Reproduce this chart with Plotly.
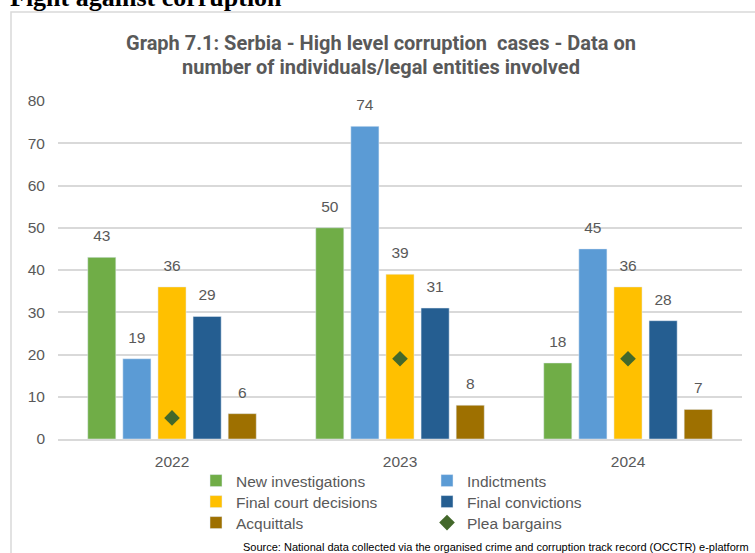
import plotly.graph_objects as go

years = ["2022", "2023", "2024"]
new_investigations = [43, 50, 18]
indictments = [19, 74, 45]
final_court_decisions = [36, 39, 36]
final_convictions = [29, 31, 28]
acquittals = [6, 8, 7]
plea_bargains = [5, 19, 19]

W, H = 755, 553
ML, MR, MT, MB = 58, 13, 101, 114
PW, PH = W - ML - MR, H - MT - MB

def px(x):
    return (x - ML) / PW

def py(y):
    return (H - MB - y) / PH

GRAY = "#595959"
LABEL_FONT = dict(family="Liberation Sans, Arial, sans-serif", size=15.5, color=GRAY)

fig = go.Figure()
series = [
    ("New investigations", new_investigations, "#70ad47", "legend"),
    ("Indictments", indictments, "#5b9bd5", "legend"),
    ("Final court decisions", final_court_decisions, "#ffc000", "legend2"),
    ("Final convictions", final_convictions, "#255e91", "legend2"),
    ("Acquittals", acquittals, "#9e7000", "legend3"),
]
for i, (name, vals, col, leg) in enumerate(series):
    fig.add_trace(go.Bar(
        name=name, x=years, y=vals, marker_color=col, legend=leg,
        offsetgroup=str(i), alignmentgroup="a",
    ))
for i, (name, vals, col, leg) in enumerate(series):
    fig.add_trace(go.Scatter(
        x=years, y=vals, mode="markers+text", text=[str(v) for v in vals],
        textposition="top center", textfont=LABEL_FONT, cliponaxis=False,
        marker=dict(size=18, color="rgba(0,0,0,0)"),
        offsetgroup=str(i), alignmentgroup="a", showlegend=False, hoverinfo="skip",
    ))
fig.add_trace(go.Scatter(
    name="Plea bargains", x=years, y=plea_bargains, mode="markers", legend="legend3",
    marker=dict(symbol="diamond", size=12, color="#43682b"),
    offsetgroup="2", alignmentgroup="a",
))

leg_common = dict(
    orientation="h", xanchor="left", yanchor="middle",
    entrywidth=186, entrywidthmode="pixels", font=LABEL_FONT,
    itemwidth=30, traceorder="normal", bgcolor="rgba(0,0,0,0)",
)
fig.update_layout(
    width=W, height=H,
    margin=dict(l=ML, r=MR, t=MT, b=MB, autoexpand=False),
    paper_bgcolor="white", plot_bgcolor="white",
    barmode="group", bargap=0.23, bargroupgap=0.2,
    scattermode="group", scattergap=0.23,
    showlegend=True,
    legend=dict(leg_common, x=px(196), y=py(481)),
    legend2=dict(leg_common, x=px(196), y=py(502)),
    legend3=dict(leg_common, x=px(196), y=py(523)),
    xaxis=dict(
        type="category", showgrid=False, showline=True, linecolor="#d9d9d9", linewidth=1.5,
        ticks="", tickfont=LABEL_FONT, ticklabelstandoff=8,
    ),
    yaxis=dict(
        range=[0, 80], dtick=10, showgrid=True, gridcolor="#d9d9d9", gridwidth=1.5,
        zeroline=False, showline=False, ticks="", tickfont=LABEL_FONT, ticklabelstandoff=12,
    ),
    shapes=[dict(
        type="rect", xref="paper", yref="paper",
        x0=px(11), x1=px(W + 20), y0=py(H + 20), y1=py(12),
        line=dict(color="#d9d9d9", width=1.5), fillcolor="rgba(0,0,0,0)", layer="below",
    )],
    annotations=[
        dict(
            text="<b>Graph 7.1: Serbia - High level corruption  cases - Data on</b>",
            xref="paper", yref="paper", x=px(381), y=py(43), xanchor="center", yanchor="middle",
            showarrow=False, font=dict(family="Roboto, sans-serif", size=20, color=GRAY),
        ),
        dict(
            text="<b>number of individuals/legal entities involved</b>",
            xref="paper", yref="paper", x=px(381), y=py(67), xanchor="center", yanchor="middle",
            showarrow=False, font=dict(family="Roboto, sans-serif", size=20, color=GRAY),
        ),
        dict(
            text="<b>Fight against corruption</b>",
            xref="paper", yref="paper", x=px(8), y=py(-3), xanchor="left", yanchor="middle",
            showarrow=False, font=dict(family="Liberation Serif, serif", size=26, color="black"),
        ),
        dict(
            text="Source: National data collected via the organised crime and corruption track record (OCCTR) e-platform",
            xref="paper", yref="paper", x=px(751), y=py(547), xanchor="right", yanchor="middle",
            showarrow=False, font=dict(family="Liberation Sans, sans-serif", size=11, color="black"),
        ),
    ],
)

fig.write_html("out.html", config={"displayModeBar": False},
               post_script="document.body.style.margin='0px';")
